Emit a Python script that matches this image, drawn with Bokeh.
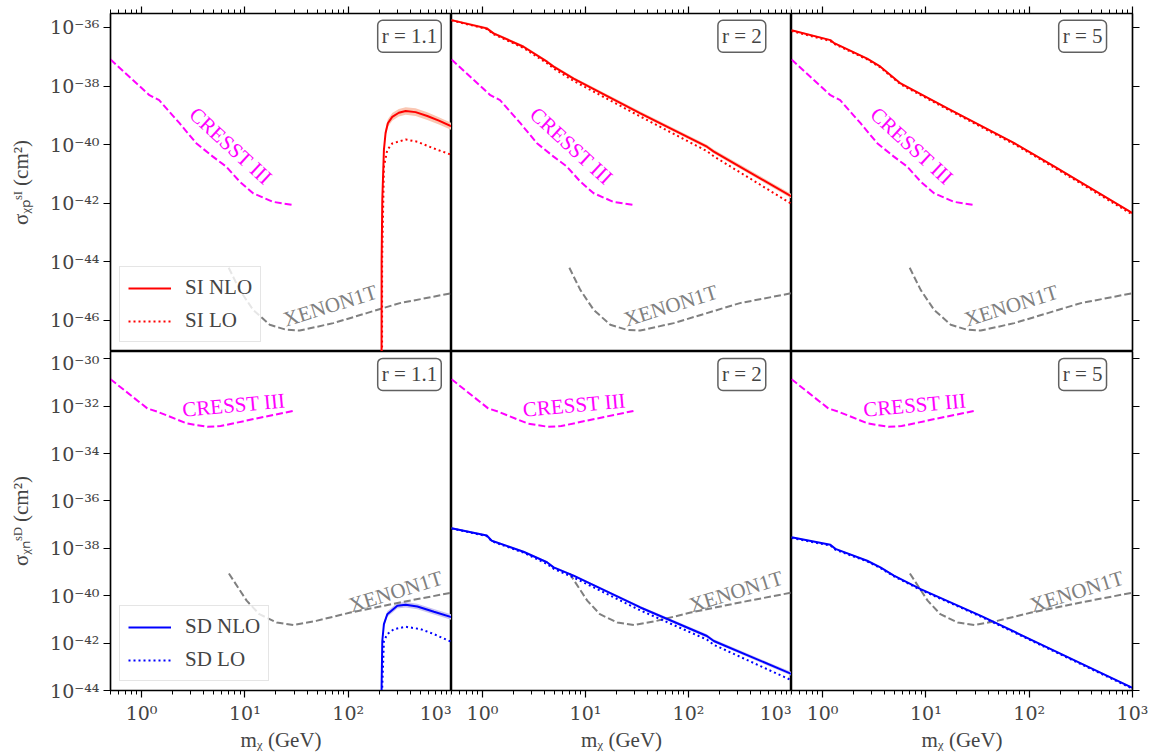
import numpy as np
from bokeh.plotting import figure
from bokeh.layouts import gridplot
from bokeh.models import (FixedTicker, CustomJSTickFormatter, Legend, LegendItem,
                          Label, Range1d)
from bokeh.core.properties import value
from bokeh.embed import file_html
from bokeh.resources import INLINE

# ---------------- data ----------------
# Experimental limits, spin independent (top row)
cresst_si_x = [0.5, 1.19, 1.48, 2.33, 3.38, 4.9, 6.6, 8.9, 12.0, 18.6, 29.5]
cresst_si_y = [8.1e-38, 4.9e-39, 3.3e-39, 5.4e-40, 1.12e-40, 3.9e-41, 1.78e-41,
               5.5e-42, 2.2e-42, 1.12e-42, 8.7e-43]
xenon_si_x = [6.97, 8.9, 12.0, 17.4, 25.1, 33.9, 71.8, 151, 316, 1000]
xenon_si_y = [6.3e-45, 1.1e-45, 2.3e-46, 7.1e-47, 4.8e-47, 4.5e-47, 8.1e-47,
              1.78e-46, 3.9e-46, 8.5e-46]
# Experimental limits, spin dependent (bottom row)
cresst_sd_x = [0.5, 1.135, 1.42, 2.75, 4.33, 5.82, 12.3, 29.2]
cresst_sd_y = [1.38e-31, 8.1e-33, 5.9e-33, 1.86e-33, 1.35e-33, 1.45e-33, 2.9e-33, 6.3e-33]
xenon_sd_x = [7.0, 10.4, 13.8, 20.4, 29.5, 49, 105, 316, 1000]
xenon_sd_y = [8.7e-40, 6.2e-41, 1.66e-41, 7.4e-42, 5.8e-42, 8.7e-42, 1.95e-41,
              5.2e-41, 1.35e-40]

# r = 1.1, SI
si11_x = [210, 210.6, 213.8, 221.7, 230, 242, 267, 309, 360, 449, 583, 755, 1000]
si11_nlo = [1e-50, 1e-44, 1.3e-42, 6.6e-41, 2.5e-40, 5.4e-40, 8.9e-40, 1.23e-39,
            1.41e-39, 1.29e-39, 9.5e-40, 6.6e-40, 4.2e-40]
si11_hi = [1e-50, 1.35e-44, 1.75e-42, 8.9e-41, 3.4e-40, 7.3e-40, 1.2e-39, 1.66e-39,
           1.9e-39, 1.74e-39, 1.28e-39, 8.7e-40, 5.5e-40]
si11_lo = [1e-50, 0.74e-44, 0.96e-42, 4.9e-41, 1.85e-40, 4.0e-40, 6.6e-40, 9.1e-40,
           1.04e-39, 9.6e-40, 7.0e-40, 4.9e-40, 3.2e-40]
si11_lo_x = [212.5, 213, 218.6, 221.7, 239, 267, 360, 467, 676, 1000]
si11_lo_y = [1e-50, 1e-44, 1.3e-42, 1.8e-41, 6.6e-41, 1.1e-40, 1.5e-40, 1.26e-40,
             7.4e-41, 4.5e-41]

# r = 2, SI
si2_x = [0.5, 1.1, 1.28, 2.5, 4.23, 4.9, 7.66, 34.1, 151, 176, 1000]
si2_nlo = [1.78e-36, 9.3e-37, 6.3e-37, 2.2e-37, 6.8e-38, 4.6e-38, 1.8e-38, 1.17e-39,
           8.5e-41, 5.8e-41, 1.7e-42]
si2_hi = [1.95e-36, 1.03e-36, 7.0e-37, 2.45e-37, 7.6e-38, 5.2e-38, 2.05e-38, 1.35e-39,
          1.0e-40, 6.9e-41, 2.05e-42]
si2_lo = [1.65e-36, 8.6e-37, 5.8e-37, 2.0e-37, 6.2e-38, 4.2e-38, 1.62e-38, 1.03e-39,
          7.4e-41, 5.0e-41, 1.45e-42]
si2_lo_y = [1.74e-36, 8.9e-37, 5.9e-37, 2.0e-37, 6.0e-38, 4.0e-38, 1.5e-38, 9.1e-40,
            6.0e-41, 4.0e-41, 9.5e-43]

# r = 5, SI
si5_x = [0.5, 1.19, 1.28, 2.7, 3.63, 5.69, 16.2, 71.8, 176, 1000]
si5_nlo = [8.1e-37, 3.7e-37, 3.0e-37, 8.7e-38, 4.6e-38, 1.23e-38, 1.74e-39, 1.12e-40,
           1.78e-41, 4.6e-43]
si5_hi = [8.6e-37, 3.95e-37, 3.2e-37, 9.3e-38, 4.9e-38, 1.31e-38, 1.86e-39, 1.2e-40,
          1.9e-41, 4.95e-43]
si5_lo = [7.7e-37, 3.5e-37, 2.85e-37, 8.2e-38, 4.35e-38, 1.16e-38, 1.64e-39, 1.05e-40,
          1.67e-41, 4.3e-43]
si5_lo_y = [7.6e-37, 3.45e-37, 2.8e-37, 8.1e-38, 4.3e-38, 1.14e-38, 1.6e-39, 1.03e-40,
            1.63e-41, 4.1e-43]

# r = 1.1, SD
sd11_x = [210, 210.6, 213.8, 221.7, 239, 299, 360, 467, 676, 1000]
sd11_nlo = [1e-50, 1.6e-44, 1.23e-42, 6.3e-42, 1.66e-41, 3.8e-41, 4.2e-41, 3.5e-41,
            2.1e-41, 1.25e-41]
sd11_hi = [1e-50, 2.1e-44, 1.6e-42, 8.2e-42, 2.2e-41, 5.0e-41, 5.5e-41, 4.6e-41,
           2.75e-41, 1.62e-41]
sd11_lo = [1e-50, 1.2e-44, 0.95e-42, 4.8e-42, 1.28e-41, 2.9e-41, 3.2e-41, 2.7e-41,
           1.6e-41, 0.96e-41]
sd11_lo_x = [212.5, 213, 221.7, 239, 277, 360, 502, 676, 1000]
sd11_lo_y = [1e-50, 1e-44, 1.23e-42, 2.4e-42, 3.9e-42, 4.9e-42, 3.9e-42, 2.4e-42, 1.12e-42]

# r = 2, SD
sd2_x = [0.5, 1.1, 1.23, 2.5, 4.23, 4.9, 7.66, 34.1, 151, 176, 1000]
sd2_nlo = [7.1e-38, 3.5e-38, 2.1e-38, 7.2e-39, 2.6e-39, 1.58e-39, 7.1e-40, 3.2e-41,
           2.0e-42, 1.23e-42, 5.0e-44]
sd2_hi = [7.8e-38, 3.85e-38, 2.3e-38, 7.9e-39, 2.85e-39, 1.74e-39, 7.9e-40, 3.65e-41,
          2.35e-42, 1.45e-42, 6.0e-44]
sd2_lo = [6.5e-38, 3.2e-38, 1.92e-38, 6.6e-39, 2.38e-39, 1.44e-39, 6.4e-40, 2.8e-41,
          1.7e-42, 1.05e-42, 4.2e-44]
sd2_lo_y = [6.9e-38, 3.3e-38, 2.0e-38, 6.6e-39, 2.2e-39, 1.38e-39, 5.9e-40, 2.4e-41,
            1.41e-42, 8.5e-43, 2.7e-44]

# r = 5, SD
sd5_x = [0.5, 1.19, 1.33, 2.7, 3.63, 4.9, 8.9, 34.1, 151, 1000]
sd5_nlo = [2.95e-38, 1.41e-38, 9.5e-39, 3.0e-39, 1.58e-39, 7.1e-40, 1.9e-40, 1.41e-41,
           6.5e-43, 1.29e-44]
sd5_hi = [3.15e-38, 1.5e-38, 1.01e-38, 3.2e-39, 1.69e-39, 7.6e-40, 2.03e-40, 1.51e-41,
          7.0e-43, 1.4e-44]
sd5_lo = [2.75e-38, 1.32e-38, 8.9e-39, 2.8e-39, 1.48e-39, 6.6e-40, 1.78e-40, 1.31e-41,
          6.0e-43, 1.19e-44]
sd5_lo_y = [2.75e-38, 1.31e-38, 8.8e-39, 2.8e-39, 1.47e-39, 6.6e-40, 1.77e-40, 1.31e-41,
            6.0e-43, 1.2e-44]

r_labels = ["r = 1.1", "r = 2", "r = 5"]
x_major = [1, 10, 100, 1000]
y_major_si = [1e-46, 1e-44, 1e-42, 1e-40, 1e-38, 1e-36]
y_major_sd = [1e-44, 1e-42, 1e-40, 1e-38, 1e-36, 1e-34, 1e-32, 1e-30]

# ---------------- styling ----------------
SERIF = "Liberation Serif"
TICKFONT = "DejaVu Serif"
FS = "21px"
RED, BLUE = "#ff0000", "#0000ff"
MAG, GRAY = "#ff00ff", "#808080"
BAND_SI, BAND_SD = "#fac6b2", "#c9c4f0"

x_minor = [m * d for d in [0.1, 1, 10, 100] for m in range(2, 10)
           if 0.5 <= m * d <= 1000]

sup_fmt = CustomJSTickFormatter(code="""
const e = Math.round(Math.log10(tick));
const m = {"-":"\\u207b","0":"\\u2070","1":"\\u00b9","2":"\\u00b2","3":"\\u00b3",
           "4":"\\u2074","5":"\\u2075","6":"\\u2076","7":"\\u2077","8":"\\u2078","9":"\\u2079"};
return "10" + String(e).split("").map(c => m[c]).join("");
""")
blank_fmt = CustomJSTickFormatter(code="return '';")


def style_axis(ax, show_labels):
    ax.major_tick_out = 7
    ax.major_tick_in = 0
    ax.minor_tick_out = 4
    ax.minor_tick_in = 0
    ax.axis_line_color = "black"
    ax.axis_line_width = 1.2
    ax.major_tick_line_width = 1.2
    ax.minor_tick_line_width = 1
    ax.major_label_text_font = TICKFONT
    ax.axis_label_text_font = SERIF
    ax.axis_label_text_font_size = FS
    ax.axis_label_text_font_style = "normal"
    if show_labels:
        ax.major_label_text_font_size = "19px"
        ax.formatter = sup_fmt
        ax.major_label_standoff = 4
    else:
        ax.major_label_text_font_size = "0px"
        ax.formatter = blank_fmt
        ax.major_label_standoff = 0


def panel(row, col):
    top = row == 0
    fw = [341, 340, 341][col]
    bl = 110 if col == 0 else 0
    br = 19 if col == 2 else 0
    bt = 13 if top else 0
    bb = 0 if top else 66
    fh = 338 if top else 339
    yr = Range1d(8.7e-48, 3.0e-36) if top else Range1d(1e-44, 2.04e-30)
    p = figure(width=fw + bl + br, height=fh + bt + bb,
               x_axis_type="log", y_axis_type="log",
               x_range=Range1d(0.5, 1000), y_range=yr,
               x_axis_location="above" if top else "below",
               y_axis_location={0: "left", 1: None, 2: "right"}[col],
               output_backend="svg", toolbar_location=None,
               min_border_left=bl, min_border_right=br,
               min_border_top=bt, min_border_bottom=bb)
    p.grid.visible = False
    p.outline_line_color = "black"
    p.outline_line_width = 1.5
    p.background_fill_color = "white"
    for ax in p.xaxis:
        ax.ticker = FixedTicker(ticks=x_major, minor_ticks=x_minor)
        style_axis(ax, not top)
        if not top:
            ax.axis_label = "m\u1d6a (GeV)"
            ax.axis_label_standoff = 1
    for ax in p.yaxis:
        ax.ticker = FixedTicker(ticks=y_major_si if top else y_major_sd, minor_ticks=[])
        style_axis(ax, col == 0)
        if col == 0:
            ax.axis_label = ("\u03c3\u1d6a\u209a\u02e2\u1d35 (cm\u00b2)" if top
                             else "\u03c3\u1d6a\u2099\u02e2\u1d30 (cm\u00b2)")
            ax.axis_label_standoff = 14
    return p


panels = [[panel(r, c) for c in range(3)] for r in range(2)]

si_sets = [(si11_x, si11_nlo, si11_hi, si11_lo, si11_lo_x, si11_lo_y),
           (si2_x, si2_nlo, si2_hi, si2_lo, si2_x, si2_lo_y),
           (si5_x, si5_nlo, si5_hi, si5_lo, si5_x, si5_lo_y)]
sd_sets = [(sd11_x, sd11_nlo, sd11_hi, sd11_lo, sd11_lo_x, sd11_lo_y),
           (sd2_x, sd2_nlo, sd2_hi, sd2_lo, sd2_x, sd2_lo_y),
           (sd5_x, sd5_nlo, sd5_hi, sd5_lo, sd5_x, sd5_lo_y)]

for row in range(2):
    top = row == 0
    color = RED if top else BLUE
    band = BAND_SI if top else BAND_SD
    sets = si_sets if top else sd_sets
    cx, cy = (cresst_si_x, cresst_si_y) if top else (cresst_sd_x, cresst_sd_y)
    xx, xy = (xenon_si_x, xenon_si_y) if top else (xenon_sd_x, xenon_sd_y)
    for col in range(3):
        p = panels[row][col]
        x, nlo, hi, lo, lox, loy = sets[col]
        p.varea(x=x, y1=lo, y2=hi, fill_color=band, fill_alpha=1.0)
        p.line(cx, cy, line_color=MAG, line_width=2, line_dash="7 3")
        p.line(xx, xy, line_color=GRAY, line_width=2, line_dash="7 3")
        r_lo = p.line(lox, loy, line_color=color, line_width=2, line_dash="2 3")
        r_nlo = p.line(x, nlo, line_color=color, line_width=2)

        # experiment names
        if top:
            p.text(x=[7.3], y=[9.0e-41], text=["CRESST III"], angle=-0.74,
                   text_color=MAG, text_font=value(SERIF), text_font_size="21px",
                   text_align="center", text_baseline="middle")
            p.text(x=[67], y=[3.2e-46], text=["XENON1T"], angle=0.30,
                   text_color=GRAY, text_font=value(SERIF), text_font_size="21px",
                   text_align="center", text_baseline="middle")
            ly = 5.0e-37
        else:
            p.text(x=[7.8], y=[1.12e-32], text=["CRESST III"], angle=0.09,
                   text_color=MAG, text_font=value(SERIF), text_font_size="21px",
                   text_align="center", text_baseline="middle")
            p.text(x=[288], y=[1.5e-40], text=["XENON1T"], angle=0.30,
                   text_color=GRAY, text_font=value(SERIF), text_font_size="21px",
                   text_align="center", text_baseline="middle")
            ly = 2.2e-31

        p.add_layout(Label(x=193, y=ly, text=r_labels[col], text_align="left",
                           text_baseline="middle", text_font=SERIF,
                           text_font_size="21px", text_font_style="normal",
                           background_fill_color="white", border_line_color="#606060",
                           border_line_width=1.5, padding=4, border_radius=5))

        if col == 0:
            name = "SI" if top else "SD"
            leg = Legend(items=[LegendItem(label=f"{name} NLO", renderers=[r_nlo]),
                                LegendItem(label=f"{name} LO", renderers=[r_lo])],
                         location="bottom_left")
            leg.label_text_font = SERIF
            leg.label_text_font_size = "21px"
            leg.glyph_width = 43
            leg.glyph_height = 20
            leg.label_height = 20
            leg.label_standoff = 14
            leg.spacing = 8
            leg.padding = 8
            leg.margin = 9
            leg.border_line_color = "#cccccc"
            leg.border_line_width = 1.5
            leg.background_fill_alpha = 0.8
            p.add_layout(leg)

grid = gridplot([panels[0], panels[1]], toolbar_location=None)

open("out.html", "w").write(file_html(grid, INLINE))
